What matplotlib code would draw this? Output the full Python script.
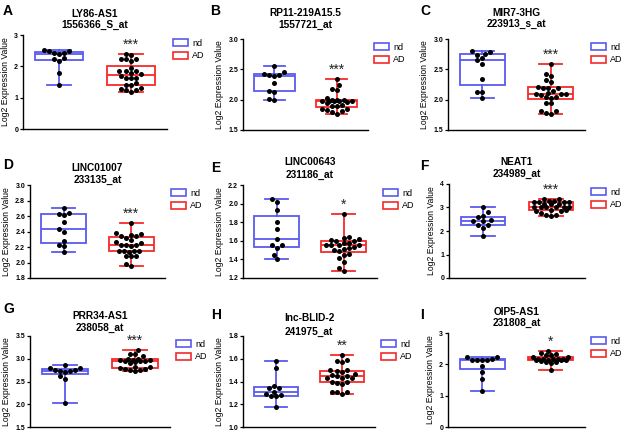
import numpy as np
import matplotlib
matplotlib.use("Agg")
import matplotlib.pyplot as plt
from matplotlib.patches import Patch

plt.rcParams['font.family'] = ['Liberation Sans', 'DejaVu Sans']

# ---------------- data ----------------
letters = ["A", "B", "C", "D", "E", "F", "G", "H", "I"]
genes = ["LY86-AS1", "RP11-219A15.5", "MIR7-3HG", "LINC01007", "LINC00643",
         "NEAT1", "PRR34-AS1", "lnc-BLID-2", "OIP5-AS1"]
probes = ["1556366_S_at", "1557721_at", "223913_s_at", "233135_at", "231186_at",
          "234989_at", "238058_at", "241975_at", "231808_at"]
stars = ["***", "***", "***", "***", "*", "***", "***", "**", "*"]
groups = ["nd", "AD"]

ylims = [(0, 3), (1.5, 3.0), (1.5, 3.0), (1.8, 3.0), (1.2, 2.2),
         (0, 4), (1.5, 3.5), (1.0, 1.8), (0, 3)]
yticks = [[0, 1, 2, 3], [1.5, 2.0, 2.5, 3.0], [1.5, 2.0, 2.5, 3.0],
          [1.8, 2.0, 2.2, 2.4, 2.6, 2.8, 3.0], [1.2, 1.4, 1.6, 1.8, 2.0, 2.2],
          [0, 1, 2, 3, 4], [1.5, 2.0, 2.5, 3.0, 3.5], [1.0, 1.2, 1.4, 1.6, 1.8],
          [0, 1, 2, 3]]
ytick_fmt = ["{:.0f}", "{:.1f}", "{:.1f}", "{:.1f}", "{:.1f}", "{:.0f}", "{:.1f}", "{:.1f}", "{:.0f}"]

nd_vals = [
    [2.53, 2.48, 2.40, 2.41, 2.42, 2.50, 2.26, 2.24, 2.18, 1.78, 1.42],
    [2.55, 2.43, 2.41, 2.40, 2.46, 2.27, 2.14, 2.13, 2.01, 2.00, 2.39],
    [2.79, 2.80, 2.76, 2.74, 2.68, 2.65, 2.58, 2.34, 2.13, 2.12, 2.02],
    [2.70, 2.64, 2.61, 2.63, 2.52, 2.40, 2.43, 2.28, 2.23, 2.21, 2.14],
    [2.05, 2.02, 1.93, 1.80, 1.73, 1.62, 1.55, 1.56, 1.52, 1.45, 1.40],
    [3.00, 2.79, 2.65, 2.58, 2.46, 2.42, 2.42, 2.25, 2.25, 2.14, 1.79],
    [2.86, 2.80, 2.80, 2.73, 2.75, 2.73, 2.75, 2.61, 2.56, 2.03, 2.70],
    [1.58, 1.52, 1.36, 1.34, 1.34, 1.29, 1.31, 1.27, 1.27, 1.28, 1.18],
    [2.23, 2.25, 2.13, 2.13, 2.13, 2.13, 2.18, 1.94, 1.76, 1.54, 1.15],
]
ad_vals = [
    [2.35, 2.39, 2.24, 2.22, 2.24, 1.95, 1.84, 1.84, 1.79, 1.84, 1.74, 1.69,
     1.63, 1.63, 1.63, 1.42, 1.39, 1.47, 1.27, 1.19, 1.25, 1.30, 1.25, 2.18],
    [2.34, 2.24, 2.18, 2.16, 2.02, 1.99, 1.98, 1.98, 1.97, 1.95, 1.96, 1.98,
     1.98, 1.99, 2.00, 1.91, 1.89, 1.89, 1.83, 1.84, 1.82, 1.76, 1.79, 1.84],
    [2.59, 2.43, 2.39, 2.33, 2.29, 2.21, 2.20, 2.20, 2.20, 2.15, 2.11, 2.09,
     2.09, 2.08, 2.09, 2.03, 2.04, 2.05, 1.94, 1.94, 1.81, 1.82, 1.76, 1.78],
    [2.51, 2.38, 2.36, 2.37, 2.34, 2.32, 2.34, 2.29, 2.23, 2.21, 2.25, 2.23,
     2.23, 2.15, 2.15, 2.15, 2.14, 2.15, 2.08, 2.08, 2.08, 1.98, 1.96, 2.26],
    [1.89, 1.645, 1.635, 1.62, 1.60, 1.58, 1.60, 1.61, 1.56, 1.56, 1.55, 1.53,
     1.52, 1.51, 1.50, 1.49, 1.45, 1.46, 1.41, 1.37, 1.31, 1.28, 1.55, 1.58],
    [3.36, 3.36, 3.27, 3.25, 3.22, 3.25, 3.27, 3.25, 3.13, 3.13, 3.13, 3.03,
     3.00, 3.00, 3.03, 3.00, 3.03, 2.89, 2.86, 2.89, 2.86, 2.68, 2.65, 2.68, 2.75],
    [3.20, 3.11, 3.06, 3.10, 2.99, 2.97, 2.94, 2.94, 2.91, 2.93, 2.94, 2.97,
     2.98, 2.99, 2.82, 2.80, 2.75, 2.73, 2.76, 2.78, 2.78, 2.82],
    [1.635, 1.58, 1.57, 1.59, 1.48, 1.47, 1.50, 1.50, 1.49, 1.445, 1.43, 1.43,
     1.445, 1.46, 1.43, 1.395, 1.395, 1.38, 1.39, 1.31, 1.31, 1.31, 1.29],
    [2.43, 2.37, 2.29, 2.32, 2.29, 2.18, 2.16, 2.15, 2.13, 2.11, 2.13, 2.16,
     2.18, 2.16, 2.07, 2.04, 2.07, 1.83, 2.13, 2.23, 2.23],
]

# ---------------- layout (pixels) ----------------
W, H = 625, 433
ax_px = [(23, 167, 35, 129), (243, 368, 39, 130), (448, 585, 39, 130),
         (30, 165, 185, 278), (243, 377, 185, 278), (449, 585, 184, 278),
         (30, 170, 336, 427), (243, 375, 336, 427), (448, 585, 333, 427)]
letter_px = [(3, 11), (210, 11), (420, 11), (3, 165), (211, 168), (420, 166),
             (3, 309), (211, 315), (420, 315)]
title_px = [(14, 25), (13, 25), (13, 24), (168, 180), (162, 175), (162, 174),
            (316, 328), (318, 332), (312, 323)]

nd_color = "#5A5AF0"
ad_color = "#F42A2A"
colors = [nd_color, ad_color]

fig = plt.figure(figsize=(W / 100, H / 100), dpi=100)


def swarm(values, center, ax_w_px, ax_h_px, xr, yr, diam_px, max_half_px):
    """Compact beeswarm limited to a maximum half-width."""
    vals = np.asarray(values, float)
    order = np.argsort(vals)
    sx = ax_w_px / xr
    sy = ax_h_px / yr
    placed = []
    xs = np.zeros(len(vals))
    step = diam_px * 0.5
    nsteps = int(max_half_px / step)
    cands = [0.0]
    for k in range(1, nsteps + 1):
        cands += [-k * step, k * step]
    for i in order:
        yp = vals[i] * sy
        best, best_d = None, -1
        for off in cands:
            dmin = min([np.hypot(px - off, py - yp) for (px, py) in placed] or [1e9])
            if dmin >= diam_px:
                best = off
                break
            if dmin > best_d:
                best_d, best_off = dmin, off
        if best is None:
            best = best_off
        placed.append((best, yp))
        xs[i] = center + best / sx
    return xs


for idx in range(9):
    l, r, t, b = ax_px[idx]
    ax = fig.add_axes([l / W, 1 - b / H, (r - l) / W, (b - t) / H])
    y0, y1 = ylims[idx]
    data = [nd_vals[idx], ad_vals[idx]]
    bp = ax.boxplot(data, positions=[1, 2], widths=0.66, whis=(0, 100),
                    showfliers=False, patch_artist=True, capwidths=0.34)
    for k in range(2):
        c = colors[k]
        bp['boxes'][k].set(facecolor='white', edgecolor=c, linewidth=1.3)
        bp['medians'][k].set(color=c, linewidth=1.3)
        for w in bp['whiskers'][2 * k:2 * k + 2]:
            w.set(color=c, linewidth=1.3)
        for cp in bp['caps'][2 * k:2 * k + 2]:
            cp.set(color=c, linewidth=1.3)
    box_half_px = 0.33 * (r - l) / 2.0
    for k in range(2):
        xs = swarm(data[k], k + 1, r - l, b - t, 2.0, y1 - y0, 5.0,
                   box_half_px * 0.85)
        ax.plot(xs, data[k], 'o', color='black', markersize=3.6,
                markeredgewidth=0, zorder=5)
    ax.set_xlim(0.5, 2.5)
    ax.set_ylim(y0, y1)
    ax.set_xticks([])
    ax.set_yticks(yticks[idx])
    ax.set_yticklabels([ytick_fmt[idx].format(v) for v in yticks[idx]],
                       fontsize=5, fontweight='bold')
    ax.tick_params(axis='y', length=2.5, width=0.9, pad=1)
    for s in ['top', 'right']:
        ax.spines[s].set_visible(False)
    for s in ['left', 'bottom']:
        ax.spines[s].set_linewidth(1.0)
    ax.set_ylabel("Log2 Expression Value", fontsize=6.2, labelpad=3)
    top = max(ad_vals[idx])
    ax.text(2, top + 0.1 * (y1 - y0), stars[idx], ha='center', va='center',
            fontsize=10, color='#222222')
    handles = [Patch(facecolor='white', edgecolor=colors[k], linewidth=1.2,
                     label=groups[k]) for k in range(2)]
    ax.legend(handles=handles, loc='upper left', bbox_to_anchor=(1.02, 1.0),
              frameon=False, fontsize=6.5, handlelength=1.6, handleheight=0.8,
              handletextpad=0.5, labelspacing=0.4, borderaxespad=0.0)
    # titles and panel letter
    cx = (l + r) / 2 / W
    fig.text(cx, 1 - title_px[idx][0] / H, genes[idx], ha='center', va='center',
             fontsize=7.3, fontweight='bold')
    fig.text(cx, 1 - title_px[idx][1] / H, probes[idx], ha='center', va='center',
             fontsize=7.3, fontweight='bold')
    fig.text(letter_px[idx][0] / W, 1 - letter_px[idx][1] / H, letters[idx],
             ha='left', va='center', fontsize=10, fontweight='bold')

fig.savefig("out.png", dpi=100)
